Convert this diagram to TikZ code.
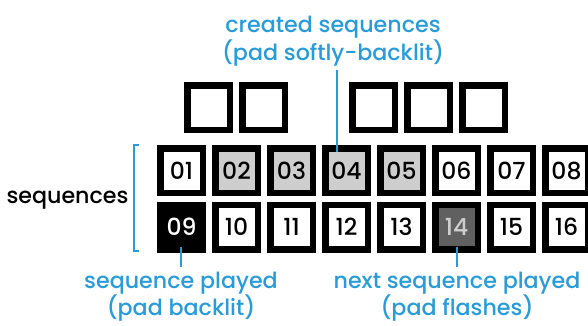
\documentclass[tikz,border=0pt]{standalone}
\usepackage{fontspec}
\setmainfont{Poppins Medium}
\usetikzlibrary{positioning}
\definecolor{padblue}{RGB}{41,155,214}
\definecolor{padlit}{RGB}{206,206,206}
\definecolor{padflash}{RGB}{96,96,96}

\begin{document}
\begin{tikzpicture}[x=1pt,y=-1pt,
  pad/.style={draw=black,line width=6.5pt,fill=white,minimum width=42.5pt,
    minimum height=44.5pt,inner sep=0pt,font=\fontsize{23.5}{23.5}\selectfont},
  padsoft/.style={pad,fill=padlit},
  padlight/.style={pad,fill=black,text=white},
  padflashing/.style={pad,fill=padflash,text=padlit},
  note/.style={text=padblue,inner sep=0pt,anchor=base,
    font=\fontsize{22.2}{22.2}\selectfont},
  link/.style={padblue,line width=2pt}]
  \useasboundingbox (0,0) rectangle (588,325);
  % empty pads above
  \foreach \k/\nm in {0/a,1/b,3/c,4/d,5/e}
    \node[pad] (top\nm) at (208.5+55*\k,107.5) {};
  % sequence pads
  \foreach \n/\st [count=\k from 0] in {01/pad,02/padsoft,03/padsoft,04/padsoft,
      05/padsoft,06/pad,07/pad,08/pad}
    \node[\st] (pad\n) at (181.5+55*\k,170.5) {\n};
  \foreach \n/\st [count=\k from 0] in {09/padlight,10/pad,11/pad,12/pad,
      13/pad,14/padflashing,15/pad,16/pad}
    \node[\st] (pad\n) at (181.5+55*\k,227) {\n};
  % bracket + row label
  \draw[padblue,line width=2pt] (139,145) -- (134,145) -- (134,251) -- (139,251);
  \node[note,text=black] (seqs) at (67.5,203) {sequences};
  % labels
  \node[note] (created) at (333,32) {created sequences};
  \node[note] (createdsub) at (333,60) {(pad softly-backlit)};
  \node[note] (played) at (181,288) {sequence played};
  \node[note] (playedsub) at (181,315) {(pad backlit)};
  \node[note] (next) at (457,288) {next sequence played};
  \node[note] (nextsub) at (457,315) {(pad flashes)};
  % pointers
  \coordinate (from04) at ([xshift=4pt,yshift=-4pt]createdsub.south);
  \coordinate (to04) at ([yshift=-7pt]from04 |- pad04.north);
  \draw[link] (from04) -- (to04);
  \draw[link] ([yshift=4pt]played.north) -- ([yshift=6pt]played.north |- pad09.south);
  \draw[link] ([yshift=4pt]next.north) -- ([yshift=6pt]next.north |- pad14.south);
\end{tikzpicture}
\end{document}
